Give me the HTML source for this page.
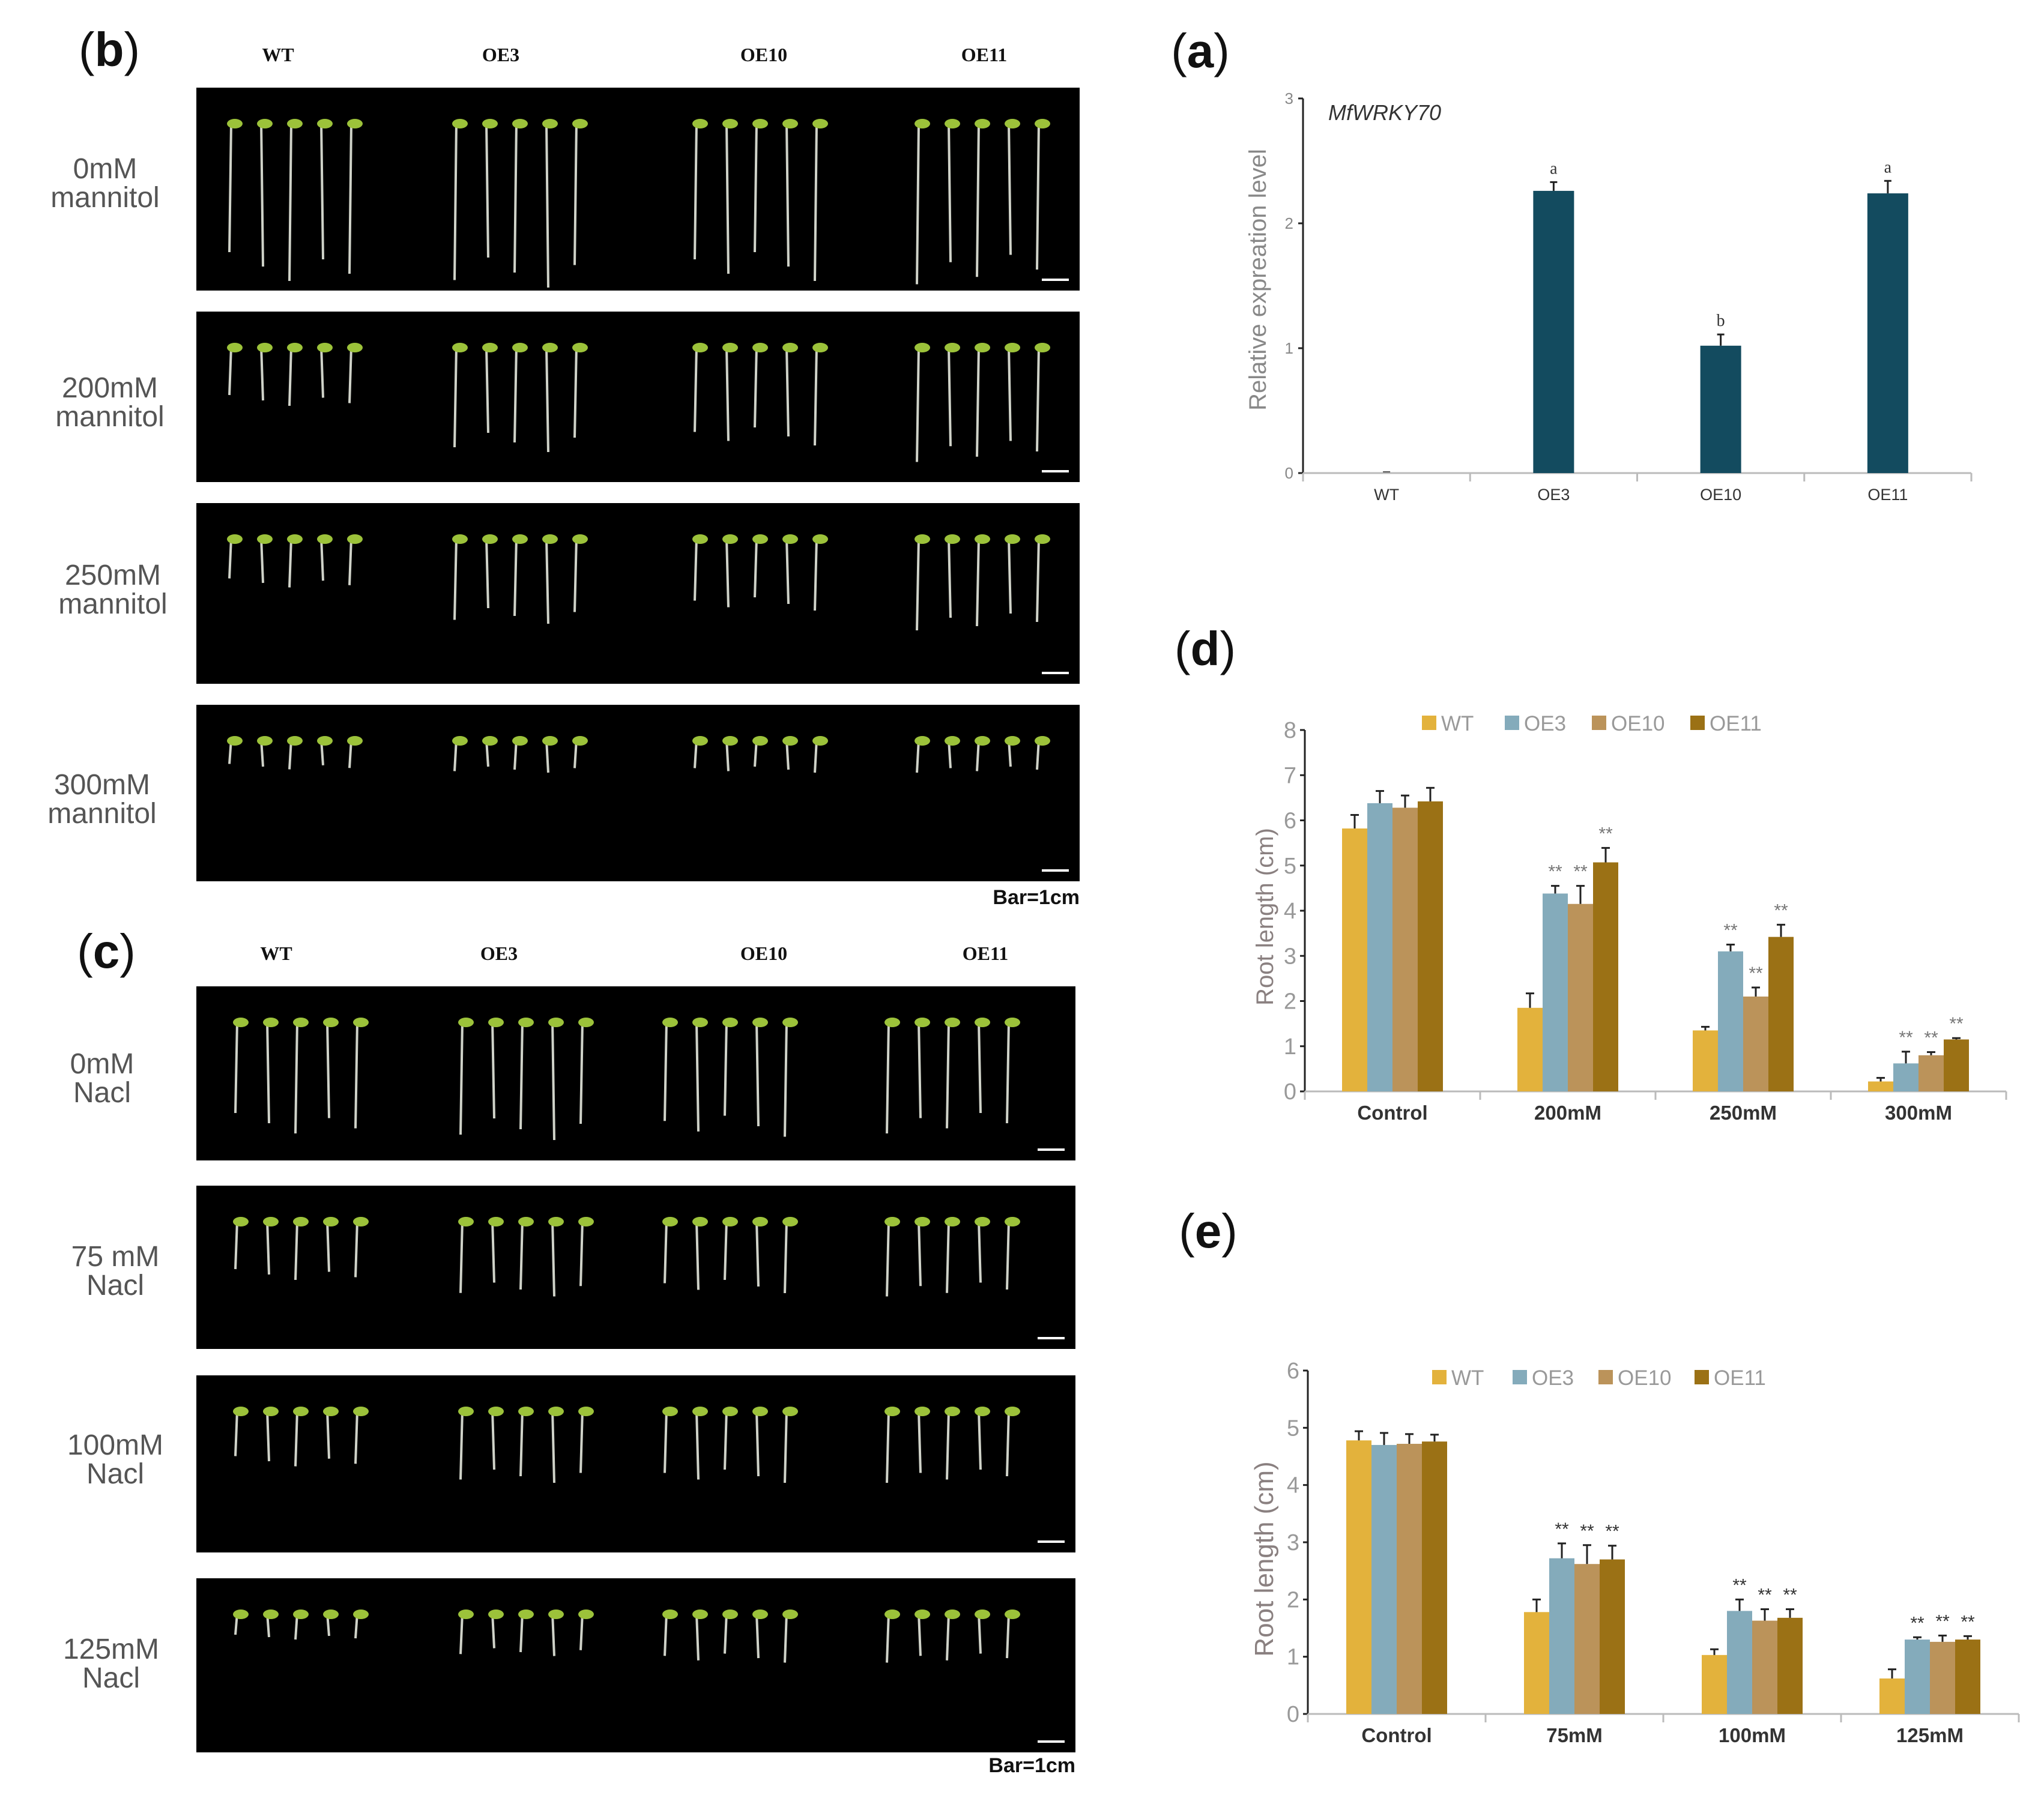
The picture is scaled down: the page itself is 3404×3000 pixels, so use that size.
<!DOCTYPE html>
<html><head><meta charset="utf-8"><style>
html,body{margin:0;padding:0;background:#fff;}
svg{display:block;}
</style></head><body>
<svg id="fig" xmlns="http://www.w3.org/2000/svg" width="3404" height="3000" viewBox="0 0 3404 3000">
<rect x="0" y="0" width="3404" height="3000" fill="#ffffff"/>
<g id="photos"></g>
<g id="chartA"></g>
<g id="chartD"></g>
<g id="chartE"></g>
</svg>
<script>
// ---- chart (a) data ----
const aCategories = ["WT","OE3","OE10","OE11"];
const aValues = [0.01, 2.26, 1.02, 2.24];
const aErrors = [0.0, 0.07, 0.09, 0.10];
const aLetters = ["", "a", "b", "a"];
const aTicks = [0,1,2,3];
// ---- chart (d) data ----
const dCategories = ["Control","200mM","250mM","300mM"];
const dSeries = ["WT","OE3","OE10","OE11"];
const dWT = [5.82, 1.85, 1.35, 0.22];
const dOE3 = [6.38, 4.38, 3.10, 0.62];
const dOE10 = [6.28, 4.15, 2.10, 0.80];
const dOE11 = [6.42, 5.07, 3.42, 1.15];
const dErrWT = [0.30, 0.32, 0.08, 0.08];
const dErrOE3 = [0.27, 0.17, 0.15, 0.26];
const dErrOE10 = [0.27, 0.40, 0.20, 0.07];
const dErrOE11 = [0.30, 0.32, 0.27, 0.03];
const dTicks = [0,1,2,3,4,5,6,7,8];
// ---- chart (e) data ----
const eCategories = ["Control","75mM","100mM","125mM"];
const eWT = [4.78, 1.78, 1.03, 0.62];
const eOE3 = [4.70, 2.72, 1.80, 1.30];
const eOE10 = [4.72, 2.62, 1.63, 1.26];
const eOE11 = [4.76, 2.70, 1.68, 1.30];
const eErrWT = [0.16, 0.22, 0.10, 0.16];
const eErrOE3 = [0.21, 0.26, 0.20, 0.04];
const eErrOE10 = [0.17, 0.33, 0.20, 0.11];
const eErrOE11 = [0.12, 0.24, 0.15, 0.06];
const eTicks = [0,1,2,3,4,5,6];

const NS="http://www.w3.org/2000/svg";
function mk(parent, tag, attrs, text){
  const e=document.createElementNS(NS,tag);
  for(const k in attrs) e.setAttribute(k, attrs[k]);
  if(text!==undefined) e.textContent=text;
  parent.appendChild(e); return e;
}
function panelLabel(parent, x, y, letter){
  const e=mk(parent,'text',{x:x,y:y,'font-size':80,'font-family':'"Liberation Sans", sans-serif','text-anchor':'middle',fill:'#111'});
  const a=document.createElementNS(NS,'tspan'); a.textContent='('; e.appendChild(a);
  const b=document.createElementNS(NS,'tspan'); b.setAttribute('font-weight','bold'); b.textContent=letter; e.appendChild(b);
  const c=document.createElementNS(NS,'tspan'); c.textContent=')'; e.appendChild(c);
  return e;
}
const colors=["#E3B23C","#84ABBB","#BB935A","#9B7115"];

// ---------- Photos (decorative) ----------
const photos=document.getElementById('photos');
const labelFont='"Liberation Sans", sans-serif';
let t;
t=panelLabel(photos,182,110,'b');


t=panelLabel(photos,177,1612,'c');


const heads=["WT","OE3","OE10","OE11"];
const headXb=[463,834,1272,1639], headXc=[460,831,1272,1641];
heads.forEach((h,i)=>{
  let e=mk(photos,'text',{x:headXb[i],y:102,'font-size':32,'font-weight':'bold','font-family':'"Liberation Serif", serif','text-anchor':'middle',fill:'#111'},h);
  
  
  e=mk(photos,'text',{x:headXc[i],y:1599,'font-size':32,'font-weight':'bold','font-family':'"Liberation Serif", serif','text-anchor':'middle',fill:'#111'},h);
  
  
});
const panels=[
 [146,484,'0mM','mannitol',175,305,[240,250,240,245]],
 [519,803,'200mM','mannitol',183,670,[90,160,150,175]],
 [838,1139,'250mM','mannitol',188,982,[75,130,110,140]],
 [1174,1468,'300mM','mannitol',170,1331,[45,50,50,50]],
];
const panelsC=[
 [1643,1933,'0mM','Nacl',170,1796,[170,180,175,170]],
 [1975,2247,'75 mM','Nacl',192,2117,[90,115,110,115]],
 [2291,2586,'100mM','Nacl',192,2431,[85,110,110,110]],
 [2629,2919,'125mM','Nacl',185,2771,[40,65,75,75]],
];
function drawPanel(p, x0, x1, groupX){
  const [y0,y1,l1,l2,lx,ly,lens]=p;
  const r=mk(photos,'rect',{x:x0,y:y0,width:x1-x0,height:y1-y0,fill:'#000'});
  
  
  let a=mk(photos,'text',{x:lx,y:ly-8,'font-size':48,'font-family':labelFont,'text-anchor':'middle',fill:'#555'},l1);
  
  
  a=mk(photos,'text',{x:lx,y:ly+40,'font-size':48,'font-family':labelFont,'text-anchor':'middle',fill:'#555'},l2);
  
  
  const top=y0+58;
  groupX.forEach((gx,g)=>{
    for(let k=0;k<5;k++){
      const sx=gx+k*50;
      const len=lens[g]*(0.9+0.2*((k*37+g*13)%5)/4);
      mk(photos,'line',{x1:sx,y1:top,x2:sx+((k%2)?3:-3),y2:top+len,stroke:'#cfd2c8','stroke-width':4});
      mk(photos,'ellipse',{cx:sx+6,cy:top+2,rx:13,ry:8,fill:'#9cc23a'});
    }
  });
  mk(photos,'line',{x1:x1-63,y1:y1-18,x2:x1-18,y2:y1-18,stroke:'#fff','stroke-width':4});
}
panels.forEach(p=>drawPanel(p,327,1798,[385,760,1160,1530]));
panelsC.forEach(p=>drawPanel(p,327,1791,[395,770,1110,1480]));
t=mk(photos,'text',{x:1798,y:1506,'font-size':34,'font-weight':'bold','font-family':labelFont,'text-anchor':'end',fill:'#111'},'Bar=1cm');


t=mk(photos,'text',{x:1791,y:2952,'font-size':34,'font-weight':'bold','font-family':labelFont,'text-anchor':'end',fill:'#111'},'Bar=1cm');



// ---------- Chart (a) ----------
(function(){
  const g=document.getElementById('chartA');
  const X0=2170, X1=3283, Y0=788, YT=164, vmax=3;
  const cw=(X1-X0)/aCategories.length;
  const y=v=>Y0-(v/vmax)*(Y0-YT);
  const xc=i=>X0+cw*(i+0.5);
  let e=panelLabel(g,1999,112,'a');
  
  
  mk(g,'line',{x1:X0,y1:YT,x2:X0,y2:Y0,stroke:'#222','stroke-width':3});
  mk(g,'line',{x1:X0,y1:Y0,x2:X1,y2:Y0,stroke:'#bbb','stroke-width':3});
  aTicks.forEach(v=>{
    mk(g,'line',{x1:X0-8,y1:y(v),x2:X0,y2:y(v),stroke:'#222','stroke-width':3});
    const tl=mk(g,'text',{x:X0-16,y:y(v)+9,'font-size':26,'font-family':labelFont,'text-anchor':'end',fill:'#888'},String(v));
    
    
  });
  for(let i=0;i<=aCategories.length;i++) mk(g,'line',{x1:X0+cw*i,y1:Y0,x2:X0+cw*i,y2:Y0+14,stroke:'#bbb','stroke-width':3});
  aCategories.forEach((c,i)=>{
    const bw=68, h=Y0-y(aValues[i]);
    if(aValues[i]>0.02){
      const b=mk(g,'rect',{x:xc(i)-bw/2,y:y(aValues[i]),width:bw,height:h,fill:'#134B5F'});
      
      
      const et=y(aValues[i]+aErrors[i]);
      mk(g,'line',{x1:xc(i),y1:y(aValues[i]),x2:xc(i),y2:et,stroke:'#222','stroke-width':3});
      mk(g,'line',{x1:xc(i)-6,y1:et,x2:xc(i)+6,y2:et,stroke:'#222','stroke-width':3});
      const lt=mk(g,'text',{x:xc(i),y:et-14,'font-size':28,'font-family':'"Liberation Serif", serif','text-anchor':'middle',fill:'#333'},aLetters[i]);
      
      
    } else {
      mk(g,'line',{x1:xc(i)-6,y1:Y0-2,x2:xc(i)+6,y2:Y0-2,stroke:'#555','stroke-width':2});
    }
    const cl=mk(g,'text',{x:xc(i),y:Y0+45,'font-size':27,'font-family':labelFont,'text-anchor':'middle',fill:'#333'},c);
    
    
  });
  e=mk(g,'text',{x:2212,y:200,'font-size':36,'font-style':'italic','font-family':labelFont,fill:'#333'},'MfWRKY70');
  
  
  e=mk(g,'text',{x:0,y:0,'font-size':40,'font-family':labelFont,'text-anchor':'middle',fill:'#888',transform:'translate(2108,466) rotate(-90)'},'Relative expreation level');
  
  
})();

// ---------- grouped charts (d) (e) ----------
function grouped(gid, label, lx, ly, X0, X1, Y0, YT, vmax, ticks, cats, vals, errs, legY, legX, titleY, titleSize, starColor){
  const g=document.getElementById(gid);
  const cw=(X1-X0)/cats.length;
  const y=v=>Y0-(v/vmax)*(Y0-YT);
  let e=panelLabel(g,lx,ly,label);
  
  
  mk(g,'line',{x1:X0,y1:YT,x2:X0,y2:Y0,stroke:'#222','stroke-width':3});
  mk(g,'line',{x1:X0,y1:Y0,x2:X1,y2:Y0,stroke:'#bbb','stroke-width':3});
  ticks.forEach(v=>{
    mk(g,'line',{x1:X0-8,y1:y(v),x2:X0,y2:y(v),stroke:'#222','stroke-width':3});
    const tl=mk(g,'text',{x:X0-14,y:y(v)+13,'font-size':38,'font-family':labelFont,'text-anchor':'end',fill:'#999'},String(v));
    
    
  });
  for(let i=0;i<=cats.length;i++) mk(g,'line',{x1:X0+cw*i,y1:Y0,x2:X0+cw*i,y2:Y0+14,stroke:'#bbb','stroke-width':3});
  const bw=42;
  cats.forEach((c,i)=>{
    const cx=X0+cw*(i+0.5);
    vals.forEach((s,j)=>{
      const bx=cx-2*bw+j*bw;
      const b=mk(g,'rect',{x:bx,y:y(s[i]),width:bw,height:Y0-y(s[i]),fill:colors[j]});
      
      
      const mx=bx+bw/2, et=y(s[i]+errs[j][i]);
      mk(g,'line',{x1:mx,y1:y(s[i]),x2:mx,y2:et,stroke:'#222','stroke-width':3});
      mk(g,'line',{x1:mx-7,y1:et,x2:mx+7,y2:et,stroke:'#222','stroke-width':3});
      if(i>0 && j>0){
        const st=mk(g,'text',{x:mx,y:et-14,'font-size':30,'font-family':labelFont,'text-anchor':'middle',fill:starColor},'**');
        
        
      }
    });
    const cl=mk(g,'text',{x:cx,y:Y0+47,'font-size':33,'font-weight':'bold','font-family':labelFont,'text-anchor':'middle',fill:'#333'},c);
    
    
  });
  dSeries.forEach((s,j)=>{
    const sw=mk(g,'rect',{x:legX[j],y:legY-12,width:24,height:24,fill:colors[j]});
    
    
    const lt=mk(g,'text',{x:legX[j]+32,y:legY+13,'font-size':35,'font-family':labelFont,fill:'#999'},s);
    
    
  });
  e=mk(g,'text',{x:0,y:0,'font-size':titleSize,'font-family':labelFont,'text-anchor':'middle',fill:'#8a8080',transform:'translate(2120,'+titleY+') rotate(-90)','xml:space':'preserve'},'Root  length  (cm)');
  
  
}
grouped('chartD','d',2007,1108,2173,3341,1818,1216,8,dTicks,dCategories,
  [dWT,dOE3,dOE10,dOE11],[dErrWT,dErrOE3,dErrOE10,dErrOE11],1204,[2368,2506,2651,2815],1527,40,'#777');
grouped('chartE','e',2012,2078,2178,3362,2855,2283,6,eTicks,eCategories,
  [eWT,eOE3,eOE10,eOE11],[eErrWT,eErrOE3,eErrOE10,eErrOE11],2294,[2385,2519,2662,2822],2597,44,'#333');
</script>
</body></html>
